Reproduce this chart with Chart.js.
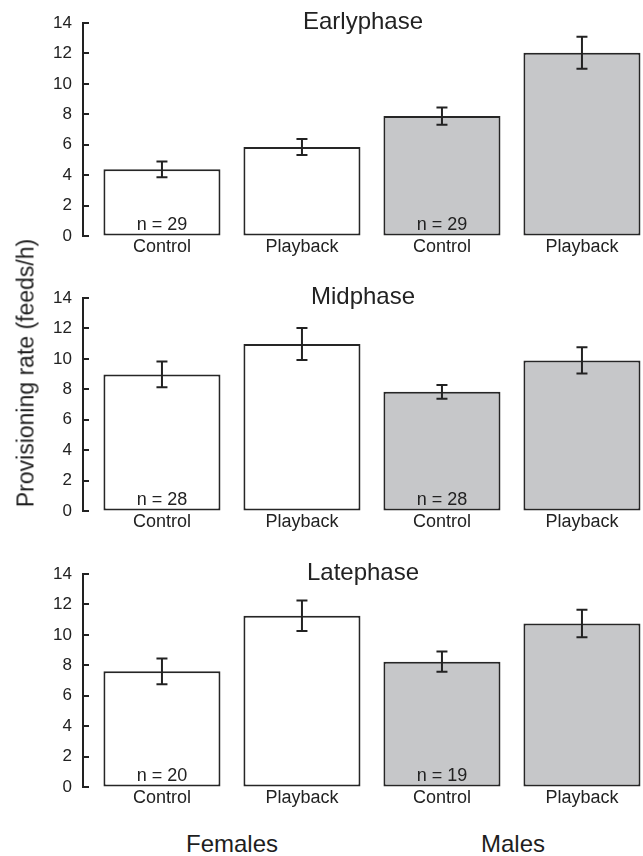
<!DOCTYPE html>
<html>
<head>
<meta charset="utf-8">
<script src="https://cdn.jsdelivr.net/npm/chart.js@4.4.1/dist/chart.umd.min.js"></script>
<style>
    body {
        margin: 0;
        width: 643px;
        height: 856px;
        position: relative;
        overflow: hidden;
        background: #fff;
        font-family: "Liberation Sans", Arial, sans-serif;
        color: #1e1e1e;
    }
    .panel {
        position: absolute;
        left: 0;
        width: 643px;
        height: 270px;
    }
    #y-title {
        position: absolute;
        left: 26px;
        top: 373px;
        font-size: 23px;
        white-space: nowrap;
        transform: translate(-50%, -50%) rotate(-90deg);
    }
    .group {
        position: absolute;
        top: 844px;
        font-size: 24px;
        white-space: nowrap;
        transform: translate(-50%, -50%);
    }
</style>
</head>
<body>
<div class="panel" style="top:0px"><canvas id="early" width="643" height="270"></canvas></div>
<div class="panel" style="top:275px"><canvas id="mid" width="643" height="270"></canvas></div>
<div class="panel" style="top:551px"><canvas id="late" width="643" height="270"></canvas></div>
<div id="y-title">Provisioning rate (feeds/h)</div>
<div class="group" style="left:232px">Females</div>
<div class="group" style="left:513px">Males</div>

<script>
const categories = ['Control', 'Playback', 'Control', 'Playback'];
const barColors = ['#ffffff', '#ffffff', '#c6c7c9', '#c6c7c9'];

const yMax = 14;
const yStep = 2;

const earlyRates = [4.38, 5.85, 7.88, 12.05];
const earlyErrors = [0.52, 0.53, 0.56, 1.05];
const earlyN = [29, null, 29, null];

const midRates = [8.98, 10.97, 7.83, 9.9];
const midErrors = [0.85, 1.05, 0.45, 0.87];
const midN = [28, null, 28, null];

const lateRates = [7.6, 11.26, 8.24, 10.75];
const lateErrors = [0.85, 1.0, 0.66, 0.9];
const lateN = [20, null, 19, null];

const font = '"Liberation Sans", Arial, sans-serif';
const ink = '#222';

// error bars, inward y ticks, n labels and the phase title
function makeDecor(title, rates, errors, sizes) {
    return {
        id: 'decor',
        afterDatasetsDraw(chart) {
            let ctx = chart.ctx;
            let y = chart.scales.y;
            let area = chart.chartArea;
            let bars = chart.getDatasetMeta(0).data;

            ctx.save();
            ctx.strokeStyle = ink;
            ctx.lineWidth = 2;

            y.ticks.forEach(t => {
                let py = Math.round(y.getPixelForValue(t.value));
                ctx.beginPath();
                ctx.moveTo(area.left, py);
                ctx.lineTo(area.left + 6, py);
                ctx.stroke();
            });

            bars.forEach((bar, i) => {
                let top = y.getPixelForValue(rates[i] + errors[i]);
                let bot = y.getPixelForValue(rates[i] - errors[i]);
                ctx.beginPath();
                ctx.moveTo(bar.x, top);
                ctx.lineTo(bar.x, bot);
                ctx.moveTo(bar.x - 5.5, top);
                ctx.lineTo(bar.x + 5.5, top);
                ctx.moveTo(bar.x - 5.5, bot);
                ctx.lineTo(bar.x + 5.5, bot);
                ctx.stroke();

                if (sizes[i]) {
                    ctx.fillStyle = ink;
                    ctx.font = '18px ' + font;
                    ctx.textAlign = 'center';
                    ctx.textBaseline = 'alphabetic';
                    ctx.fillText('n = ' + sizes[i], bar.x, area.bottom - 6);
                }
            });

            ctx.fillStyle = ink;
            ctx.font = '24px ' + font;
            ctx.textAlign = 'center';
            ctx.textBaseline = 'alphabetic';
            ctx.fillText(title, (area.left + area.right) / 2, area.top + 6);
            ctx.restore();
        }
    };
}

function makePanel(id, title, rates, errors, sizes) {
    let context = document.getElementById(id).getContext('2d');
    return new Chart(context, {
        type: 'bar',
        data: {
            datasets: [{
                data: rates.map((v, i) => ({ x: i, y: v })),
                backgroundColor: barColors,
                borderColor: '#262626',
                borderWidth: 2,
                borderSkipped: false,
                barPercentage: 0.836,
                categoryPercentage: 1
            }]
        },
        options: {
            responsive: false,
            animation: false,
            layout: { padding: { top: 23, left: 0, right: 0, bottom: 0 } },
            plugins: {
                legend: { display: false },
                tooltip: { enabled: false }
            },
            scales: {
                x: {
                    type: 'linear',
                    min: -0.564,
                    max: 3.436,
                    offset: false,
                    grid: { display: false, offset: false },
                    border: { display: false },
                    afterBuildTicks: s => { s.ticks = categories.map((c, i) => ({ value: i })); },
                    afterFit: s => { s.height = 34; },
                    ticks: {
                        padding: -8,
                        color: ink,
                        font: { family: font, size: 18 },
                        callback: v => categories[v]
                    }
                },
                y: {
                    min: 0,
                    max: yMax,
                    grid: { display: true, drawOnChartArea: false, drawTicks: false },
                    border: { display: true, color: ink, width: 2 },
                    afterFit: s => { s.width = 83; },
                    ticks: {
                        stepSize: yStep,
                        padding: 11,
                        color: ink,
                        font: { family: font, size: 17 }
                    }
                }
            }
        },
        plugins: [makeDecor(title, rates, errors, sizes)]
    });
}

makePanel('early', 'Earlyphase', earlyRates, earlyErrors, earlyN);
makePanel('mid', 'Midphase', midRates, midErrors, midN);
makePanel('late', 'Latephase', lateRates, lateErrors, lateN);
</script>
</body>
</html>
